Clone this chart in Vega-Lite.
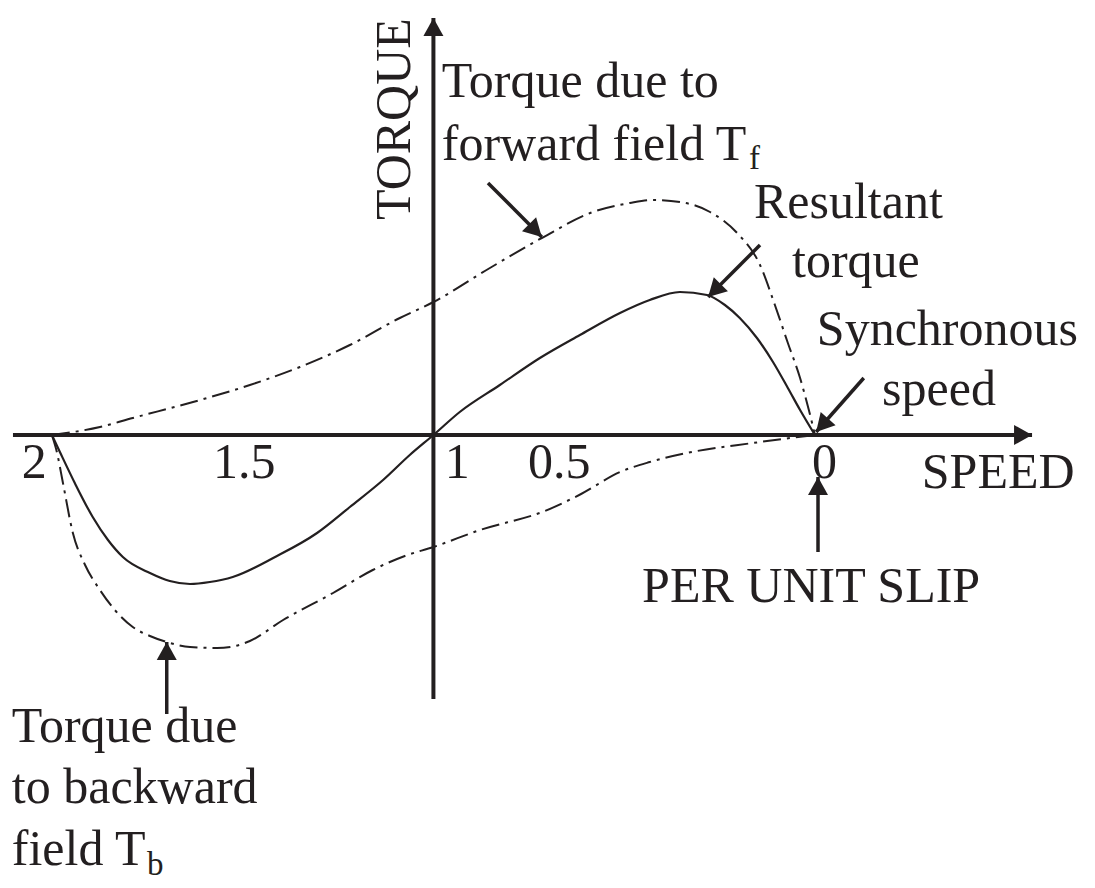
{
  "$schema": "https://vega.github.io/schema/vega-lite/v6.json",
  "width": 1095,
  "height": 888,
  "padding": 0,
  "autosize": {"type": "fit", "contains": "padding"},
  "background": "white",
  "config": {"view": {"stroke": null}},
  "datasets": {
    "curves": [
      {"curve": "Tf", "s": 2.0, "T": 0.0},
      {"curve": "Tf", "s": 1.874, "T": 0.08},
      {"curve": "Tf", "s": 1.788, "T": 0.17},
      {"curve": "Tf", "s": 1.63, "T": 0.33},
      {"curve": "Tf", "s": 1.481, "T": 0.5},
      {"curve": "Tf", "s": 1.35, "T": 0.68},
      {"curve": "Tf", "s": 1.219, "T": 0.9},
      {"curve": "Tf", "s": 1.088, "T": 1.17},
      {"curve": "Tf", "s": 1.0, "T": 1.33},
      {"curve": "Tf", "s": 0.852, "T": 1.67},
      {"curve": "Tf", "s": 0.716, "T": 1.97},
      {"curve": "Tf", "s": 0.582, "T": 2.23},
      {"curve": "Tf", "s": 0.485, "T": 2.32},
      {"curve": "Tf", "s": 0.425, "T": 2.35},
      {"curve": "Tf", "s": 0.354, "T": 2.33},
      {"curve": "Tf", "s": 0.275, "T": 2.23},
      {"curve": "Tf", "s": 0.204, "T": 2.02},
      {"curve": "Tf", "s": 0.144, "T": 1.7},
      {"curve": "Tf", "s": 0.105, "T": 1.3},
      {"curve": "Tf", "s": 0.071, "T": 0.92},
      {"curve": "Tf", "s": 0.039, "T": 0.57},
      {"curve": "Tf", "s": 0.016, "T": 0.25},
      {"curve": "Tf", "s": 0.0, "T": 0.0},
      {"curve": "Resultant", "s": 2.0, "T": 0.0},
      {"curve": "Resultant", "s": 1.979, "T": -0.17},
      {"curve": "Resultant", "s": 1.94, "T": -0.48},
      {"curve": "Resultant", "s": 1.893, "T": -0.82},
      {"curve": "Resultant", "s": 1.853, "T": -1.05},
      {"curve": "Resultant", "s": 1.814, "T": -1.22},
      {"curve": "Resultant", "s": 1.743, "T": -1.38},
      {"curve": "Resultant", "s": 1.691, "T": -1.46},
      {"curve": "Resultant", "s": 1.638, "T": -1.49},
      {"curve": "Resultant", "s": 1.586, "T": -1.47},
      {"curve": "Resultant", "s": 1.526, "T": -1.42},
      {"curve": "Resultant", "s": 1.415, "T": -1.22},
      {"curve": "Resultant", "s": 1.305, "T": -0.98},
      {"curve": "Resultant", "s": 1.219, "T": -0.72},
      {"curve": "Resultant", "s": 1.132, "T": -0.45},
      {"curve": "Resultant", "s": 1.062, "T": -0.2},
      {"curve": "Resultant", "s": 1.0, "T": 0.0},
      {"curve": "Resultant", "s": 0.931, "T": 0.23},
      {"curve": "Resultant", "s": 0.826, "T": 0.5},
      {"curve": "Resultant", "s": 0.721, "T": 0.77},
      {"curve": "Resultant", "s": 0.616, "T": 1.0},
      {"curve": "Resultant", "s": 0.511, "T": 1.22},
      {"curve": "Resultant", "s": 0.433, "T": 1.35},
      {"curve": "Resultant", "s": 0.354, "T": 1.43},
      {"curve": "Resultant", "s": 0.283, "T": 1.4},
      {"curve": "Resultant", "s": 0.236, "T": 1.3},
      {"curve": "Resultant", "s": 0.197, "T": 1.17},
      {"curve": "Resultant", "s": 0.152, "T": 0.97},
      {"curve": "Resultant", "s": 0.11, "T": 0.73},
      {"curve": "Resultant", "s": 0.071, "T": 0.47},
      {"curve": "Resultant", "s": 0.039, "T": 0.25},
      {"curve": "Resultant", "s": 0.0, "T": 0.0},
      {"curve": "Tb", "s": 2.0, "T": 0.0},
      {"curve": "Tb", "s": 1.987, "T": -0.17},
      {"curve": "Tb", "s": 1.971, "T": -0.48},
      {"curve": "Tb", "s": 1.945, "T": -0.98},
      {"curve": "Tb", "s": 1.913, "T": -1.3},
      {"curve": "Tb", "s": 1.874, "T": -1.55},
      {"curve": "Tb", "s": 1.835, "T": -1.75},
      {"curve": "Tb", "s": 1.788, "T": -1.92},
      {"curve": "Tb", "s": 1.743, "T": -2.01},
      {"curve": "Tb", "s": 1.699, "T": -2.07},
      {"curve": "Tb", "s": 1.638, "T": -2.12},
      {"curve": "Tb", "s": 1.567, "T": -2.13},
      {"curve": "Tb", "s": 1.52, "T": -2.11},
      {"curve": "Tb", "s": 1.481, "T": -2.06},
      {"curve": "Tb", "s": 1.394, "T": -1.85},
      {"curve": "Tb", "s": 1.263, "T": -1.58},
      {"curve": "Tb", "s": 1.159, "T": -1.35},
      {"curve": "Tb", "s": 1.075, "T": -1.21},
      {"curve": "Tb", "s": 1.0, "T": -1.12},
      {"curve": "Tb", "s": 0.878, "T": -0.95},
      {"curve": "Tb", "s": 0.708, "T": -0.76},
      {"curve": "Tb", "s": 0.613, "T": -0.59},
      {"curve": "Tb", "s": 0.511, "T": -0.37},
      {"curve": "Tb", "s": 0.433, "T": -0.27},
      {"curve": "Tb", "s": 0.336, "T": -0.18},
      {"curve": "Tb", "s": 0.163, "T": -0.08},
      {"curve": "Tb", "s": 0.0, "T": 0.0}
    ],
    "arrows": [
      {"name": "speed axis", "kind": "axis", "s": 2.102, "T": 0.0, "s2": -0.569, "T2": 0.0, "ang": 90},
      {"name": "torque axis", "kind": "axis", "s": 1.0, "T": -2.64, "s2": 1.0, "T2": 4.17, "ang": 0},
      {"name": "forward", "kind": "pointer", "s": 0.857, "T": 2.52, "s2": 0.716, "T2": 1.98, "ang": 135},
      {"name": "resultant", "kind": "pointer", "s": 0.144, "T": 1.9, "s2": 0.28, "T2": 1.38, "ang": 225},
      {"name": "synchronous", "kind": "pointer", "s": -0.128, "T": 0.57, "s2": -0.003, "T2": 0.03, "ang": 222},
      {"name": "slip", "kind": "pointer", "s": -0.008, "T": -1.17, "s2": -0.008, "T2": -0.42, "ang": 0},
      {"name": "backward", "kind": "pointer", "s": 1.699, "T": -2.79, "s2": 1.699, "T2": -2.07, "ang": 0}
    ],
    "labels": [
      {"role": "main", "text": "Torque due to", "s": 0.978, "T": 3.38},
      {"role": "main", "text": "forward field T", "s": 0.978, "T": 2.75},
      {"role": "sub", "text": "f", "s": 0.173, "T": 2.66},
      {"role": "main", "text": "Resultant", "s": 0.16, "T": 2.17},
      {"role": "main", "text": "torque", "s": 0.06, "T": 1.58},
      {"role": "main", "text": "Synchronous", "s": -0.005, "T": 0.9},
      {"role": "main", "text": "speed", "s": -0.176, "T": 0.3},
      {"role": "main", "text": "2", "s": 2.079, "T": -0.43},
      {"role": "main", "text": "1.5", "s": 1.578, "T": -0.43},
      {"role": "main", "text": "1", "s": 0.97, "T": -0.43},
      {"role": "main", "text": "0.5", "s": 0.752, "T": -0.43},
      {"role": "main", "text": "0", "s": 0.008, "T": -0.43},
      {"role": "main", "text": "SPEED", "s": -0.28, "T": -0.53},
      {"role": "main", "text": "PER UNIT SLIP", "s": 0.453, "T": -1.67},
      {"role": "main", "text": "Torque due", "s": 2.105, "T": -3.07},
      {"role": "main", "text": "to backward", "s": 2.105, "T": -3.68},
      {"role": "main", "text": "field T", "s": 2.105, "T": -4.3},
      {"role": "sub", "text": "b", "s": 1.751, "T": -4.4},
      {"role": "vertical", "text": "TORQUE", "s": 1.062, "T": 2.15}
    ]
  },
  "encoding": {
    "x": {"field": "s", "type": "quantitative", "scale": {"domain": [-0.734, 2.136], "reverse": true, "nice": false, "zero": false}, "axis": null},
    "y": {"field": "T", "type": "quantitative", "scale": {"domain": [-4.53, 4.35], "nice": false, "zero": false}, "axis": null}
  },
  "layer": [
    {
      "data": {"name": "curves"},
      "transform": [{"filter": "datum.curve !== 'Resultant'"}],
      "mark": {"type": "line", "interpolate": "monotone", "color": "#231f20", "strokeWidth": 2, "strokeDash": [18, 6, 3, 6]},
      "encoding": {"detail": {"field": "curve"}}
    },
    {
      "data": {"name": "curves"},
      "transform": [{"filter": "datum.curve === 'Resultant'"}],
      "mark": {"type": "line", "interpolate": "monotone", "color": "#231f20", "strokeWidth": 2.2},
      "encoding": {}
    },
    {
      "data": {"name": "arrows"},
      "transform": [{"filter": "datum.kind === 'axis'"}],
      "mark": {"type": "rule", "color": "#231f20", "strokeWidth": 4},
      "encoding": {"x2": {"field": "s2"}, "y2": {"field": "T2"}}
    },
    {
      "data": {"name": "arrows"},
      "transform": [{"filter": "datum.kind === 'pointer'"}],
      "mark": {"type": "rule", "color": "#231f20", "strokeWidth": 3.5},
      "encoding": {"x2": {"field": "s2"}, "y2": {"field": "T2"}}
    },
    {
      "data": {"name": "arrows"},
      "mark": {"type": "point", "shape": "M0,0L1,1.8L-1,1.8Z", "filled": true, "size": 400, "color": "#231f20", "opacity": 1, "strokeWidth": 0},
      "encoding": {
        "x": {"field": "s2", "type": "quantitative"},
        "y": {"field": "T2", "type": "quantitative"},
        "angle": {"field": "ang", "type": "quantitative", "scale": null}
      }
    },
    {
      "data": {"name": "labels"},
      "transform": [{"filter": "datum.role === 'main'"}],
      "mark": {"type": "text", "align": "left", "baseline": "alphabetic", "font": "Liberation Serif", "fontSize": 50, "color": "#231f20"},
      "encoding": {"text": {"field": "text"}}
    },
    {
      "data": {"name": "labels"},
      "transform": [{"filter": "datum.role === 'sub'"}],
      "mark": {"type": "text", "align": "left", "baseline": "alphabetic", "font": "Liberation Serif", "fontSize": 33, "color": "#231f20"},
      "encoding": {"text": {"field": "text"}}
    },
    {
      "data": {"name": "labels"},
      "transform": [{"filter": "datum.role === 'vertical'"}],
      "mark": {"type": "text", "align": "left", "baseline": "alphabetic", "angle": 270, "font": "Liberation Serif", "fontSize": 50, "color": "#231f20"},
      "encoding": {"text": {"field": "text"}}
    }
  ]
}
